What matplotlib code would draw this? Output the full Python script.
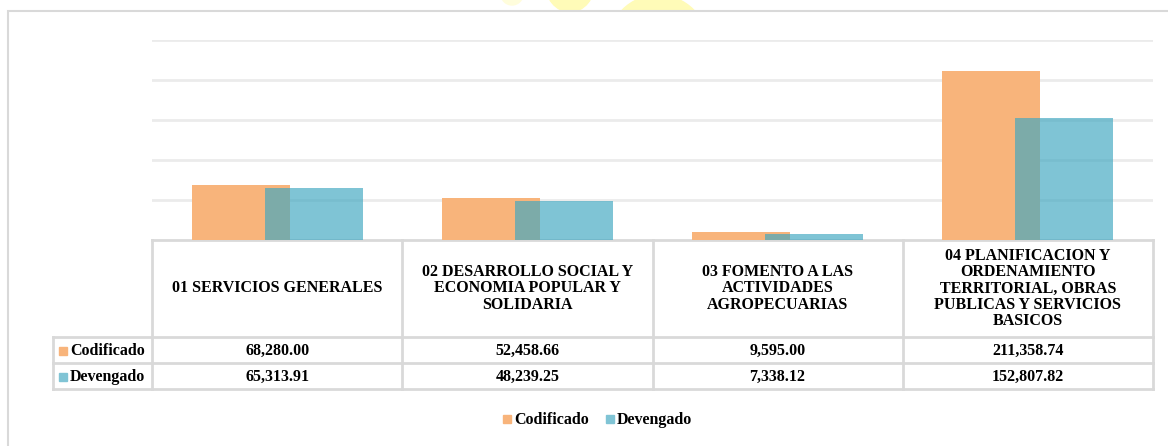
import numpy as np
import matplotlib.pyplot as plt
from matplotlib.patches import Rectangle, Ellipse

categories = ['01 SERVICIOS GENERALES',
              '02 DESARROLLO SOCIAL Y\nECONOMIA POPULAR Y\nSOLIDARIA',
              '03 FOMENTO A LAS\nACTIVIDADES\nAGROPECUARIAS',
              '04 PLANIFICACION Y\nORDENAMIENTO\nTERRITORIAL, OBRAS\nPUBLICAS Y SERVICIOS\nBASICOS']
codificado = [68280.00, 52458.66, 9595.00, 211358.74]
devengado = [65313.91, 48239.25, 7338.12, 152807.82]
series_names = ['Codificado', 'Devengado']

c_orange = '#F8B47B'
c_blue = '#40A7C1'
blue_alpha = 0.67
grid_c = '#EBEBEB'
border_c = '#D9D9D9'

plt.rcParams['font.family'] = ['Liberation Serif', 'DejaVu Serif']
plt.rcParams['font.weight'] = 'bold'

W, H = 1168, 446
fig = plt.figure(figsize=(W / 100, H / 100), dpi=100)

# overlay axes in pixel coordinates for frame, table and legend
ov = fig.add_axes([0, 0, 1, 1])
ov.set_xlim(0, W)
ov.set_ylim(H, 0)
ov.axis('off')

# faint watermark shapes at top
ov.add_patch(Ellipse((570, -18), 50, 60, color='#FFFBB8', zorder=0))
ov.add_patch(Ellipse((658, 45), 100, 100, color='#FFFBB8', zorder=0))
ov.add_patch(Ellipse((512, -6), 22, 22, color='#FFFDDC', zorder=0))
ov.add_patch(Rectangle((8, 11), 1200, 500, facecolor='white', edgecolor=border_c, lw=1.5, zorder=1))

# bar axes
x0, x1, ytop, ybase = 152, 1153, 40, 240
ax = fig.add_axes([x0 / W, 1 - ybase / H, (x1 - x0) / W, (ybase - ytop) / H])
ax.patch.set_alpha(0)
x = np.arange(len(categories))
bw, off = 0.392, 0.146
ax.bar(x - off, codificado, bw, color=c_orange, zorder=2)
ax.bar(x + off, devengado, bw, color=c_blue, alpha=blue_alpha, zorder=3)
ax.set_xlim(-0.5, len(categories) - 0.5)
ax.set_ylim(0, 250000)
ax.set_yticks(np.arange(50000, 250001, 50000))
ax.yaxis.grid(True, color=grid_c, lw=2)
ax.set_axisbelow(True)
ax.tick_params(left=False, bottom=False, labelleft=False, labelbottom=False)
for s in ax.spines.values():
    s.set_visible(False)

# data table
col_edges = [x0 + i * (x1 - x0) / 4 for i in range(5)]
row_label_x = 53
y_head, y_r1, y_r2, y_r3 = 240, 337, 363, 389
lk = dict(color=border_c, lw=2, zorder=5)
ov.plot([x0, x1], [y_head, y_head], **lk)
ov.plot([row_label_x, x1], [y_r1, y_r1], **lk)
ov.plot([row_label_x, x1], [y_r2, y_r2], **lk)
ov.plot([row_label_x, x1], [y_r3, y_r3], **lk)
ov.plot([row_label_x, row_label_x], [y_r1, y_r3], **lk)
for i, e in enumerate(col_edges):
    ov.plot([e, e], [y_head, y_r3], **lk)

fs = 11.5
for i, cat in enumerate(categories):
    cx = (col_edges[i] + col_edges[i + 1]) / 2
    ov.text(cx, (y_head + y_r1) / 2, cat, ha='center', va='center', fontsize=fs,
            fontweight='bold', linespacing=1.02, zorder=6)
    ov.text(cx, (y_r1 + y_r2) / 2 + 1, f'{codificado[i]:,.2f}', ha='center', va='center',
            fontsize=fs, fontweight='bold', zorder=6)
    ov.text(cx, (y_r2 + y_r3) / 2 + 1, f'{devengado[i]:,.2f}', ha='center', va='center',
            fontsize=fs, fontweight='bold', zorder=6)

leg_colors = [c_orange, '#80C4D5']
for j, (name, col) in enumerate(zip(series_names, leg_colors)):
    yc = [(y_r1 + y_r2) / 2, (y_r2 + y_r3) / 2][j]
    ov.add_patch(Rectangle((59, yc - 3), 8, 8, color=col, zorder=6))
    ov.text(70, yc + 1, name, ha='left', va='center', fontsize=fs, fontweight='bold', zorder=6)

# legend
leg_y = 419
for name, col, sx in zip(series_names, leg_colors, [503, 606]):
    ov.add_patch(Rectangle((sx, leg_y - 4), 8, 8, color=col, zorder=6))
    ov.text(sx + 11, leg_y + 1, name, ha='left', va='center', fontsize=fs, fontweight='bold', zorder=6)

fig.savefig('out.png', dpi=100)
